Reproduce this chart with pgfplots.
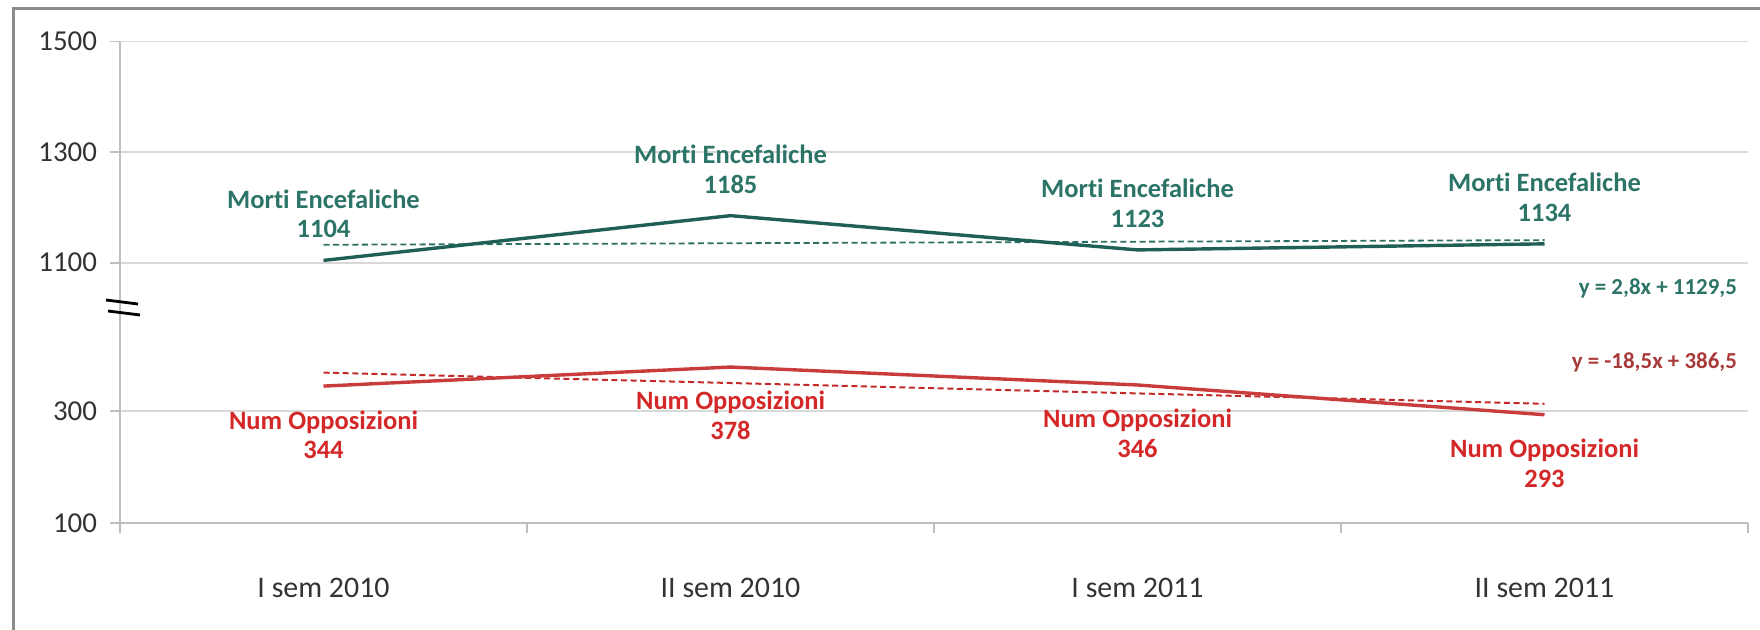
\documentclass[border=0pt]{standalone}
\usepackage{pgfplots}
\pgfplotsset{compat=1.18}
\usepackage{fontspec}
\setmainfont{Carlito}[Ligatures=NoCommon]
\definecolor{tealline}{HTML}{1F5F55}
\definecolor{tealtext}{HTML}{2C7467}
\definecolor{tealtrend}{HTML}{2C6E63}
\definecolor{redline}{HTML}{C83C3C}
\definecolor{redtext}{HTML}{D42828}
\definecolor{redeq}{HTML}{A83A3A}
\definecolor{gridgray}{HTML}{D9D9D9}
\definecolor{axisgray}{HTML}{BFBFBF}
\definecolor{ticktext}{HTML}{333333}
\definecolor{bordergray}{HTML}{8C8C8C}
\pgfplotsset{
  common/.style={
    scale only axis, width=814bp,
    xmin=0.5, xmax=4.5,
    /pgf/number format/assume math mode=true,
    /pgf/number format/1000 sep={},
    axis line style={draw=axisgray, line width=0.9bp},
    ymajorgrids, grid style={draw=gridgray, line width=0.9bp},
    tick style={draw=axisgray, line width=0.9bp},
    tick align=outside, major tick length=5bp,
    yticklabel style={font=\fontsize{14.5}{17}\selectfont, text=ticktext, xshift=-3bp},
    clip=false,
  }
}
\begin{document}
\begin{tikzpicture}
\useasboundingbox (0,0) rectangle (880bp,315bp);
% upper panel
\begin{axis}[common,
  at={(60bp,160.2bp)}, anchor=south west, height=134bp,
  ymin=1015, ymax=1500, ytick={1100,1300,1500},
  axis x line=none, axis y line*=left,
  y axis line style={-},
]
\addplot[tealtrend, line width=0.9bp, dash pattern=on 3bp off 1.8bp] coordinates {(1,1132.3) (4,1140.7)};
\addplot[tealline, line width=1.7bp, mark=none,
  point meta=explicit symbolic,
  nodes near coords={Morti Encefaliche\\\pgfplotspointmeta},
  every node near coord/.append style={align=center, anchor=south, yshift=7bp,
     text=tealtext, font=\bfseries\fontsize{13.3}{14.8}\selectfont}]
  coordinates {(1,1104)[1104] (2,1185)[1185] (3,1123)[1123] (4,1134)[1134]};
\node[anchor=east, text=tealtext, font=\bfseries\fontsize{11.5}{13}\selectfont] at (axis cs:4.49,1053) {y = 2,8x + 1129,5};
\end{axis}
% lower panel
\begin{axis}[common,
  at={(60bp,53.5bp)}, anchor=south west, height=106.6bp,
  ymin=100, ymax=480, ytick={100,300},
  axis x line*=bottom, axis y line*=left,
  x axis line style={-}, y axis line style={-},
  xtick={0.5,1.5,2.5,3.5,4.5}, xticklabels={},
  extra x ticks={1,2,3,4},
  extra x tick labels={I sem 2010, II sem 2010, I sem 2011, II sem 2011},
  extra x tick style={major tick length=0pt, grid=none},
  xticklabel style={font=\fontsize{15}{18}\selectfont, text=ticktext, yshift=-24bp},
]
\addplot[redeq!70!red, line width=1bp, dash pattern=on 3bp off 1.8bp] coordinates {(1,368) (4,312.5)};
\addplot[redline, line width=1.7bp, mark=none,
  point meta=explicit symbolic,
  nodes near coords={Num Opposizioni\\\pgfplotspointmeta},
  every node near coord/.append style={align=center, anchor=north, yshift=-8bp,
     text=redtext, font=\bfseries\fontsize{13.3}{14.8}\selectfont}]
  coordinates {(1,344)[344] (2,378)[378] (3,346)[346] (4,293)[293]};
\node[anchor=east, text=redeq, font=\bfseries\fontsize{11.5}{13}\selectfont] at (axis cs:4.49,386) {y = -18,5x + 386,5};
\end{axis}
% outer frame (top and left)
\draw[bordergray, line width=1.5bp] (6.7bp,-2bp) -- (6.7bp,310.5bp) -- (882bp,310.5bp);
% axis break mark
\draw[black, line width=1.4bp] (53bp,165bp) -- (69bp,163bp);
\draw[black, line width=1.4bp] (54bp,159.5bp) -- (70bp,157.5bp);
\end{tikzpicture}
\end{document}
